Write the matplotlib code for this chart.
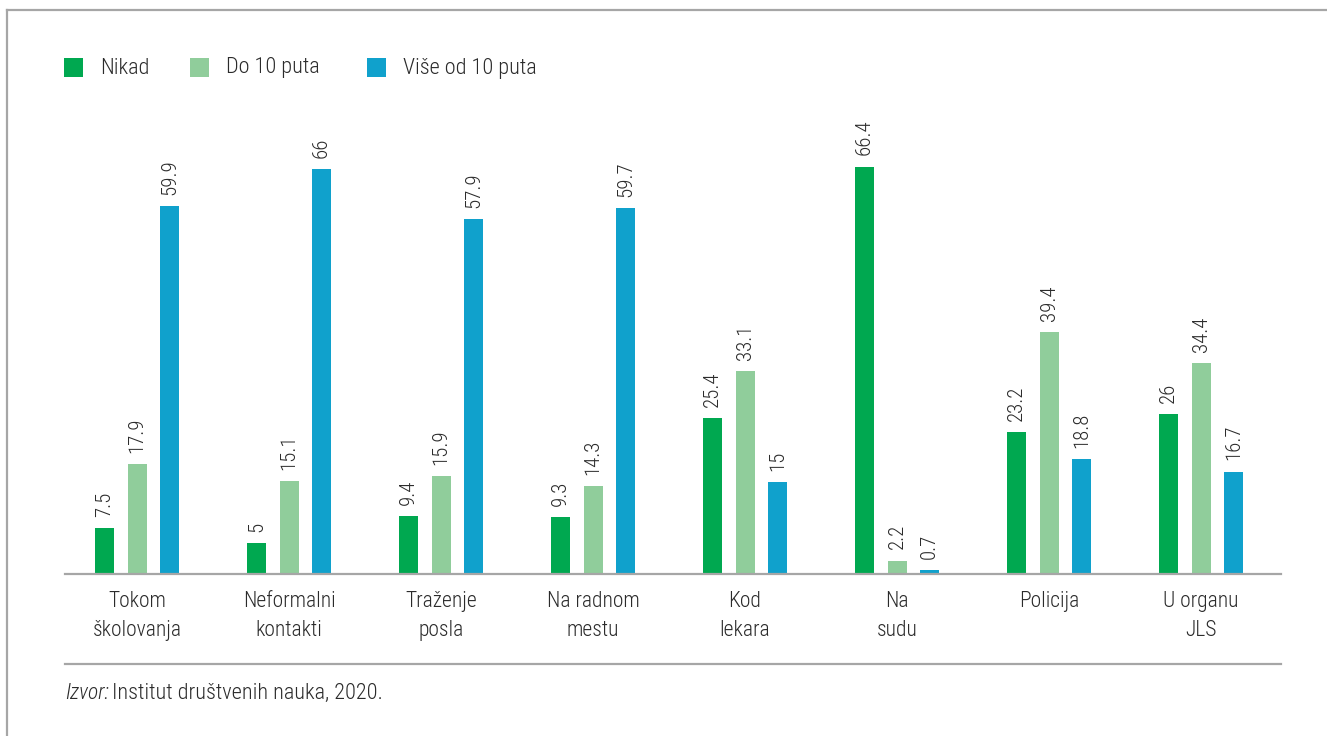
import matplotlib
matplotlib.use("Agg")
import matplotlib.pyplot as plt
from matplotlib import font_manager
from matplotlib.patches import Rectangle
from matplotlib.lines import Line2D
import numpy as np

# Data
categories = ["Tokom\nškolovanja", "Neformalni\nkontakti", "Traženje\nposla",
              "Na radnom\nmestu", "Kod\nlekara", "Na\nsudu", "Policija",
              "U organu\nJLS"]
series_names = ["Nikad", "Do 10 puta", "Više od 10 puta"]
nikad = [7.5, 5, 9.4, 9.3, 25.4, 66.4, 23.2, 26]
do_10 = [17.9, 15.1, 15.9, 14.3, 33.1, 2.2, 39.4, 34.4]
vise_10 = [59.9, 66, 57.9, 59.7, 15, 0.7, 18.8, 16.7]
labels_txt = [
    ["7.5", "5", "9.4", "9.3", "25.4", "66.4", "23.2", "26"],
    ["17.9", "15.1", "15.9", "14.3", "33.1", "2.2", "39.4", "34.4"],
    ["59.9", "66", "57.9", "59.7", "15", "0.7", "18.8", "16.7"],
]
colors = ["#00a850", "#90cd9b", "#10a1cc"]

# pick a condensed font if available
family = "DejaVu Sans"
for cand in ["Liberation Sans Narrow", "Roboto Condensed", "Roboto", "Liberation Sans"]:
    try:
        font_manager.findfont(cand, fallback_to_default=False)
        family = cand
        break
    except Exception:
        continue
plt.rcParams["font.family"] = [family, "DejaVu Sans"]
plt.rcParams["font.weight"] = "light"

W, H = 1327, 736
fig = plt.figure(figsize=(W / 100, H / 100), dpi=100)
txt_col = "#2b2b2b"
grey = "#a6a6a6"

# outer frame (top and left edges)
fig.add_artist(Line2D([7 / W, 1], [1 - 10 / H, 1 - 10 / H], color=grey, lw=1.6,
                      transform=fig.transFigure))
fig.add_artist(Line2D([7 / W, 7 / W], [0, 1 - 10 / H], color=grey, lw=1.6,
                      transform=fig.transFigure))

# plot area
left, right, base, top = 65, 1281, 574, 100
ax = fig.add_axes([left / W, 1 - base / H, (right - left) / W, (base - top) / H])
px_per_unit = 405 / 66
ax.set_ylim(0, (base - top) / px_per_unit)
ax.set_xlim(-0.474, 7.526)

x = np.arange(len(categories))
bw = 0.125
offs = [-0.214, 0, 0.214]
for vals, lbls, off, c in zip([nikad, do_10, vise_10], labels_txt, offs, colors):
    bars = ax.bar(x + off, vals, width=bw, color=c, linewidth=0)
    for b, t in zip(bars, lbls):
        ax.annotate(t, (b.get_x() + b.get_width() / 2, b.get_height()),
                    xytext=(0, 8), textcoords="offset points", rotation=90,
                    ha="center", va="bottom", fontsize=15, color=txt_col)

for s in ["top", "right", "left"]:
    ax.spines[s].set_visible(False)
ax.spines["bottom"].set_color(grey)
ax.spines["bottom"].set_linewidth(1.6)
ax.set_yticks([])
ax.set_xticks(x)
ax.set_xticklabels(categories, fontsize=15.5, color=txt_col, linespacing=1.5)
ax.tick_params(axis="x", length=0, pad=12)

# legend
leg_x = [64, 190, 367]
for lx, name, c in zip(leg_x, series_names, colors):
    fig.add_artist(Rectangle((lx / W, 1 - 77 / H), 19 / W, 19 / H, color=c,
                             transform=fig.transFigure, linewidth=0))
    fig.text((lx + 36) / W, 1 - 68 / H, name, fontsize=16, color=txt_col,
             va="center", ha="left")

# bottom separator and source
fig.add_artist(Line2D([left / W, right / W], [1 - 664 / H, 1 - 664 / H], color=grey,
                      lw=1.6, transform=fig.transFigure))
fig.text(left / W, 1 - 693 / H, "Izvor:", fontsize=15.5, color=txt_col,
         style="italic", va="center", ha="left")
fig.text(112 / W, 1 - 693 / H, "Institut društvenih nauka, 2020.", fontsize=16,
         color=txt_col, va="center", ha="left")

fig.savefig("out.png", dpi=100, facecolor="white")
